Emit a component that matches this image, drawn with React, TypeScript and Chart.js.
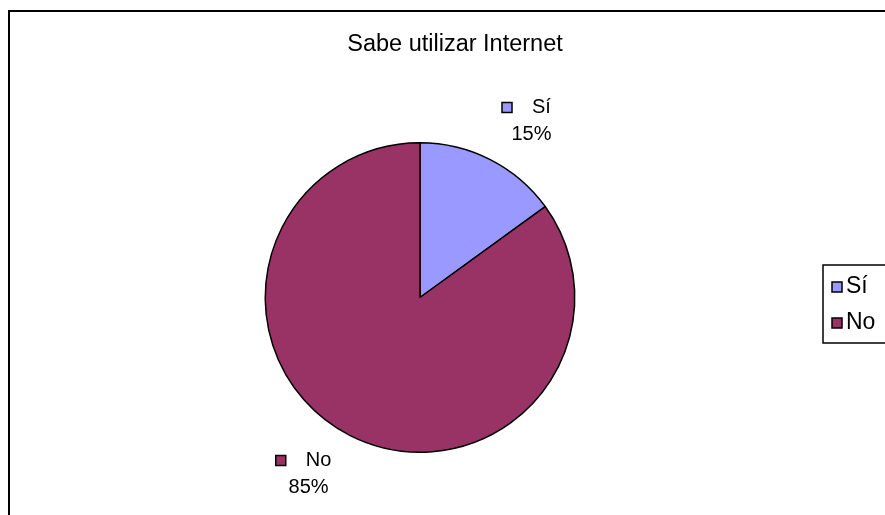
import React, { useEffect, useRef } from "react";
import { Chart, registerables } from "chart.js";

Chart.register(...registerables);

const title = "Sabe utilizar Internet";
const categories = ["Sí", "No"];
const values = [15, 85];
const colors = ["#9999FF", "#993366"];

const FONT = "'Liberation Sans', Arial, sans-serif";

const decorPlugin = {
  id: "decor",
  afterDraw(chart: any) {
    const ctx = chart.ctx as CanvasRenderingContext2D;
    ctx.save();
    // outer chart border
    ctx.strokeStyle = "#000";
    ctx.lineWidth = 2;
    ctx.strokeRect(9, 11, 1000, 1000);

    // title
    ctx.fillStyle = "#000";
    ctx.font = `23.5px ${FONT}`;
    ctx.textAlign = "center";
    ctx.textBaseline = "middle";
    ctx.fillText(title, 455, 45);

    // data labels
    const meta = chart.getDatasetMeta(0);
    const total = values.reduce((a, b) => a + b, 0);
    meta.data.forEach((arc: any, i: number) => {
      const p = arc.getProps(["x", "y", "startAngle", "endAngle", "outerRadius"], true);
      const mid = (p.startAngle + p.endAngle) / 2 + 0.092;
      const r = p.outerRadius + 54;
      const cx = p.x + Math.cos(mid) * r;
      const cy = p.y + Math.sin(mid) * r;
      ctx.font = `20px ${FONT}`;
      ctx.textBaseline = "middle";
      const name = categories[i];
      const pct = Math.round((values[i] / total) * 100) + "%";
      const nameW = ctx.measureText(name).width;
      const box = 10;
      const gap = 20;
      const lineW = box + gap + nameW;
      const x0 = cx - 5 - lineW / 2;
      const y1 = cy - 13.5;
      ctx.fillStyle = colors[i];
      ctx.fillRect(x0, y1 - box / 2, box, box);
      ctx.strokeStyle = "#000";
      ctx.lineWidth = 1.5;
      ctx.strokeRect(x0, y1 - box / 2, box, box);
      ctx.fillStyle = "#000";
      ctx.textAlign = "left";
      ctx.fillText(name, x0 + box + gap, y1);
      ctx.textAlign = "center";
      ctx.fillText(pct, cx, cy + 13.5);
    });

    // legend
    ctx.lineWidth = 1.5;
    ctx.strokeStyle = "#000";
    ctx.strokeRect(823, 265, 200, 78);
    ctx.font = `23px ${FONT}`;
    ctx.textAlign = "left";
    ctx.textBaseline = "middle";
    categories.forEach((c, i) => {
      const y = 287 + i * 36;
      ctx.fillStyle = colors[i];
      ctx.fillRect(832, y - 5, 10, 10);
      ctx.strokeStyle = "#000";
      ctx.strokeRect(832, y - 5, 10, 10);
      ctx.fillStyle = "#000";
      ctx.fillText(c, 846, y);
    });
    ctx.restore();
  },
};

export default function App() {
  const ref = useRef<HTMLCanvasElement>(null);
  useEffect(() => {
    if (!ref.current) return;
    const chart = new Chart(ref.current, {
      type: "pie",
      data: {
        labels: categories,
        datasets: [
          {
            data: values,
            backgroundColor: colors,
            borderColor: "#000",
            borderWidth: 1.5,
          },
        ],
      },
      options: {
        animation: false,
        responsive: false,
        events: [],
        layout: { padding: { left: 264.5, right: 309.5, top: 142, bottom: 62 } },
        plugins: {
          legend: { display: false },
          title: { display: false },
          tooltip: { enabled: false },
        },
      },
      plugins: [decorPlugin],
    });
    return () => chart.destroy();
  }, []);
  return (
    <div style={{ position: "fixed", left: 0, top: 0, width: 885, height: 515, background: "#fff" }}>
      <canvas ref={ref} width={885} height={515} style={{ width: 885, height: 515 }} />
    </div>
  );
}
